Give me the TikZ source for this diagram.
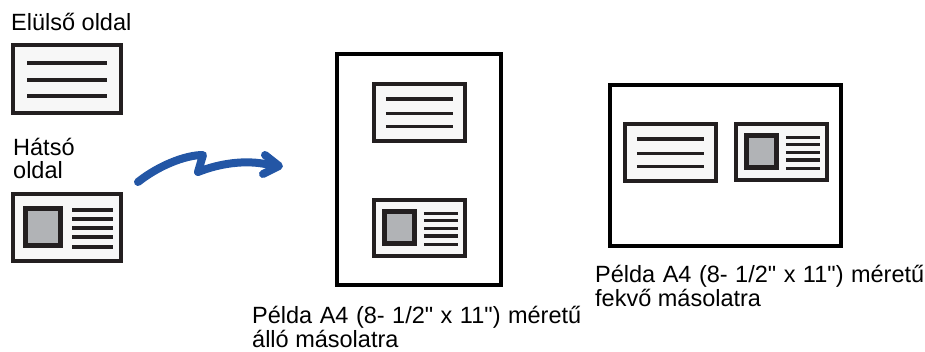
\documentclass[tikz,border=0pt]{standalone}
\usepackage{fontspec}
\setmainfont{Liberation Sans}[Ligatures=TeXOff]
\newcommand\wsp{\hspace{7.5pt}}
\definecolor{ink}{HTML}{231F20}
\definecolor{cardfill}{HTML}{F7F7F7}
\definecolor{photofill}{HTML}{B1B3B6}
\definecolor{arrowblue}{HTML}{2356A5}
\tikzset{
  cardborder/.style={draw=ink, line width=4pt, fill=cardfill},
  cardline/.style={draw=ink, line width=3.3pt},
  photobox/.style={draw=ink, line width=5pt, fill=photofill},
  pageborder/.style={draw=black, line width=4pt, fill=white},
  label/.style={anchor=base west, inner sep=0pt, font=\fontsize{23.5}{24}\selectfont, text=black},
  pics/frontcard/.style={code={
    \path[cardborder] (2,2) rectangle (110.3,70);
    \foreach \yy in {20,37,53} \draw[cardline] (16.3,\yy) -- (96.3,\yy);
  }},
  pics/backcard/.style={code={
    \path[cardborder] (2,2) rectangle (110.3,69);
    \path[photobox] (14.8,16.5) rectangle (49.8,53.5);
    \foreach \yy in {18,27,36,45,55} \draw[cardline] (61.3,\yy) -- (102.3,\yy);
  }}
}
\begin{document}
\begin{tikzpicture}[x=1pt,y=-1pt]
\useasboundingbox (0,0) rectangle (925,351);

% left side
\node[label] (front) at (11,30) {Elülső oldal};
\pic at (10.7,43) {frontcard};
\node[label] (back1) at (13,155) {Hátsó};
\node[label] (back2) at (13,178) {oldal};
\pic at (10.7,192) {backcard};

% arrow
\coordinate (a0) at (138,182);
\coordinate (a1) at (203,155);
\coordinate (a2) at (198,172);
\coordinate (a3) at (270,165);
\coordinate (h1) at (265,155);
\coordinate (h2) at (279,166);
\coordinate (h3) at (263,174);
\draw[arrowblue, line width=8pt, line cap=round, line join=round]
  (a0) .. controls (158,166) and (185,155) .. (a1) -- (a2)
  .. controls (218,164) and (245,159) .. (a3);
\draw[arrowblue, line width=8pt, line cap=round, line join=round]
  (h1) -- (h2) -- (h3);

% portrait page
\path[pageborder] (337,54) rectangle (501,285);
\pic[scale=0.845] at (372,82) {frontcard};
\pic[scale=0.845] at (372,198) {backcard};
\node[label] (cap1a) at (252,323) {Példa\wsp A4\wsp (8-\wsp 1/2"\wsp x\wsp 11")\wsp méretű};
\node[label] (cap1b) at (252,347) {álló másolatra};

% landscape page
\path[pageborder] (610,85) rectangle (841,246);
\pic[scale=0.845] at (623,122) {frontcard};
\pic[scale=0.845] at (734,122) {backcard};
\node[label] (cap2a) at (595,282) {Példa\wsp A4\wsp (8-\wsp 1/2"\wsp x\wsp 11")\wsp méretű};
\node[label] (cap2b) at (595,306) {fekvő másolatra};
\end{tikzpicture}
\end{document}
